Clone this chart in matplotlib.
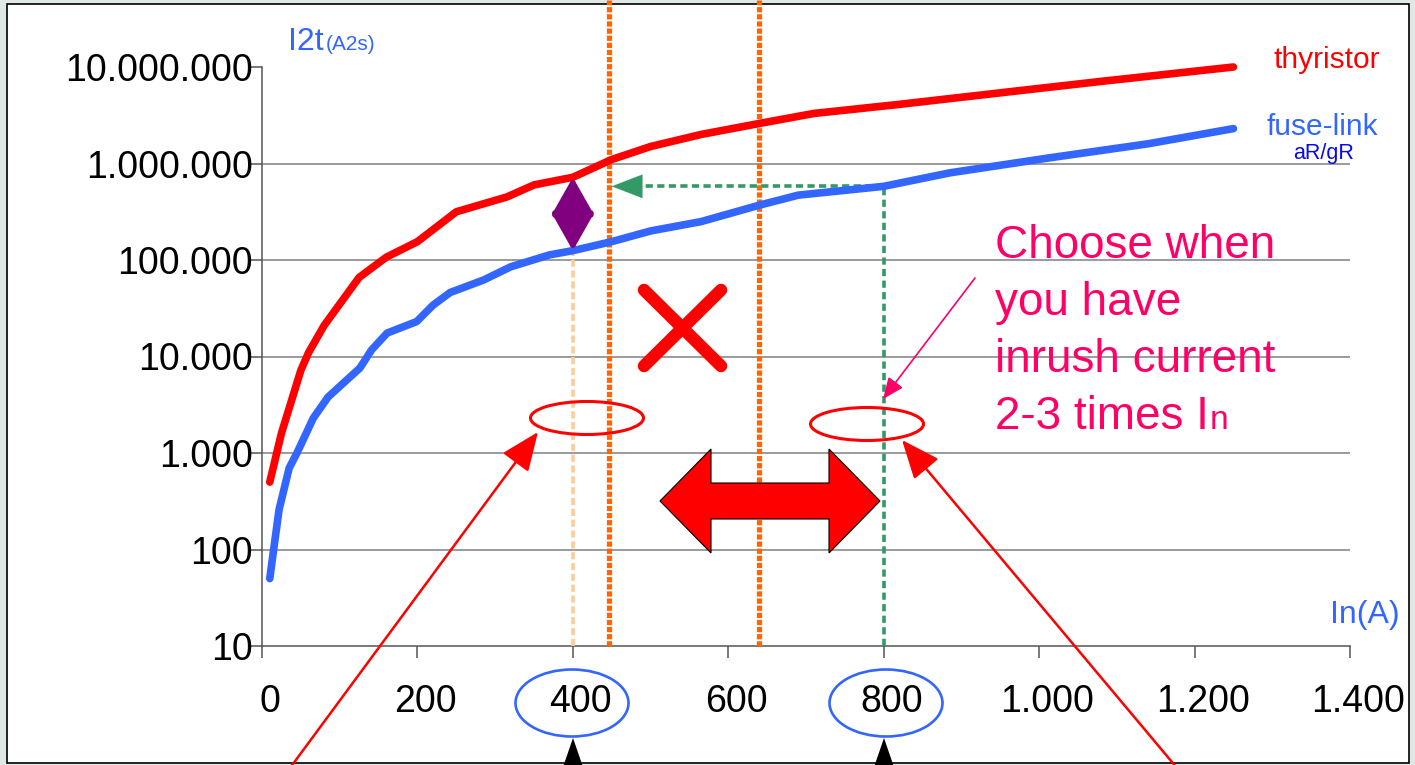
import matplotlib
matplotlib.use('Agg')
import matplotlib.pyplot as plt
import matplotlib.transforms as mtransforms
from matplotlib.patches import Rectangle, Ellipse, Polygon, FancyArrowPatch
from matplotlib.lines import Line2D
from matplotlib.ticker import FuncFormatter, FixedLocator

plt.rcParams['font.family'] = ['Liberation Sans', 'DejaVu Sans']

W, H = 1415, 765

# I2t curves (In in A, I2t in A2s)
thyristor_in = [10, 25, 50, 60, 80, 125, 160, 200, 250, 315, 350, 400, 450,
                500, 565, 640, 710, 820, 950, 1080, 1250]
thyristor_i2t = [500, 1600, 7200, 11000, 21000, 66000, 107000, 155000, 316000,
                 450000, 600000, 720000, 1100000, 1500000, 2000000, 2600000,
                 3300000, 4100000, 5400000, 7100000, 10000000]

fuse_in = [10, 15, 22, 35, 45, 66, 85, 110, 126, 141, 161, 199, 220, 242,
           285, 320, 370, 400, 450, 500, 565, 640, 690, 800, 885, 1015,
           1140, 1250]
fuse_i2t = [50, 100, 260, 700, 1000, 2300, 3800, 5800, 7600, 11700, 17500,
            23000, 34000, 46000, 62000, 85000, 113000, 125000, 155000, 200000,
            250000, 370000, 470000, 580000, 800000, 1150000, 1600000, 2300000]

y_ticks = [10, 100, 1000, 10000, 100000, 1000000, 10000000]
x_ticks = [0, 200, 400, 600, 800, 1000, 1200, 1400]
orange_marks = [447, 640]   # the two dark orange limits
chosen_in = [400, 800]      # circled ratings

RED = '#FF0000'
BLUE = '#3366FF'
PINK = '#FF0066'
GREEN = '#339966'
ORANGE = '#FF6600'
LIGHT_ORANGE = '#FFCC99'
PURPLE = '#800080'


def fx(x):
    return x / W


def fy(y):
    return 1 - y / H


def dots(v):
    return f'{int(round(v)):,}'.replace(',', '.')


fig = plt.figure(figsize=(W / 100, H / 100), dpi=100, facecolor='#dfe8e5')

# white slide panel
fig.patches.append(Rectangle((fx(7), fy(763)), fx(1409) - fx(7), fy(4) - fy(763),
                             transform=fig.transFigure, facecolor='white',
                             edgecolor='black', lw=1.2, zorder=-1))

ax = fig.add_axes([fx(262), fy(646), fx(1350) - fx(262), fy(67) - fy(646)], zorder=1)
ax.set_facecolor('none')
ax.set_yscale('log')
ax.set_xlim(0, 1400)
ax.set_ylim(10, 10000000)

ax.yaxis.set_major_locator(FixedLocator(y_ticks))
ax.yaxis.set_minor_locator(FixedLocator([]))
ax.yaxis.set_major_formatter(FuncFormatter(lambda v, p: dots(v)))
ax.set_xticks(x_ticks)
ax.xaxis.set_major_formatter(FuncFormatter(lambda v, p: dots(v)))

for s in ['top', 'right']:
    ax.spines[s].set_visible(False)
for s in ['left', 'bottom']:
    ax.spines[s].set_color('#555555')
    ax.spines[s].set_linewidth(1.1)
ax.tick_params(axis='y', direction='out', length=8.5, width=1.1, color='#555555',
               labelsize=27, pad=-2)
ax.tick_params(axis='x', direction='out', length=8.5, width=1.1, color='#555555',
               labelsize=27, pad=19)
shift = mtransforms.ScaledTranslation(8 / 100, 0, fig.dpi_scale_trans)
for lab in ax.get_xticklabels():
    lab.set_transform(lab.get_transform() + shift)

for v in y_ticks[1:-1]:
    ax.axhline(v, color='#808080', lw=1.1, zorder=1)

# curves
ax.plot(thyristor_in, thyristor_i2t, color=RED, lw=5.5, solid_capstyle='round',
        solid_joinstyle='round', clip_on=False, zorder=4)
ax.plot(fuse_in, fuse_i2t, color=BLUE, lw=5.5, solid_capstyle='round',
        solid_joinstyle='round', clip_on=False, zorder=4)

fuse_400 = fuse_i2t[fuse_in.index(chosen_in[0])]
thy_400 = thyristor_i2t[thyristor_in.index(chosen_in[0])]
fuse_800 = fuse_i2t[fuse_in.index(chosen_in[1])]

# vertical guide lines
ax.plot([chosen_in[0], chosen_in[0]], [10, fuse_400], color=LIGHT_ORANGE, lw=2.6,
        linestyle=(0, (2.0, 1.0)), zorder=3)
for xo in orange_marks:
    ax.axvline(xo, ymin=0, ymax=646 / 579, color=ORANGE, lw=3.8,
               linestyle=(0, (1.0, 0.35)), clip_on=False, zorder=3)
ax.plot([chosen_in[1], chosen_in[1]], [10, fuse_800], color=GREEN, lw=2.6,
        linestyle=(0, (2.0, 1.2)), zorder=3)
ax.plot([chosen_in[1], 492], [fuse_800, fuse_800], color=GREEN, lw=2.6,
        linestyle=(0, (2.0, 1.2)), zorder=3)
ax.annotate('', xy=(450, fuse_800), xytext=(493, fuse_800),
            arrowprops=dict(arrowstyle='-|>,head_length=2.2,head_width=0.85',
                            mutation_scale=10, color=GREEN, lw=0.1,
                            shrinkA=0, shrinkB=0), zorder=5)

# purple double arrow between the curves at 400 A
ax.annotate('', xy=(chosen_in[0], thy_400), xytext=(chosen_in[0], fuse_400),
            arrowprops=dict(arrowstyle='<|-|>,head_length=2.3,head_width=1.3',
                            mutation_scale=10, color=PURPLE, lw=4,
                            shrinkA=0, shrinkB=0), zorder=6)

# red cross
for (x0, y0, x1, y1) in [(644, 290, 721, 366), (644, 366, 721, 290)]:
    fig.add_artist(Line2D([fx(x0), fx(x1)], [fy(y0), fy(y1)], transform=fig.transFigure,
                          color=RED, lw=9, solid_capstyle='round', zorder=6))

# big red double arrow
block = [(660, 501), (711, 449), (711, 483), (829, 483), (829, 449), (880, 501),
         (829, 553), (829, 519), (711, 519), (711, 553)]
fig.patches.append(Polygon([(fx(a), fy(b)) for a, b in block], closed=True,
                           transform=fig.transFigure, facecolor=RED,
                           edgecolor='black', lw=0.8, zorder=6))

# red ellipses on the curves, blue ellipses round the tick labels
for cx, cy in [(587, 418), (867, 424)]:
    fig.patches.append(Ellipse((fx(cx), fy(cy)), 113 / W, 33 / H, transform=fig.transFigure,
                               facecolor='none', edgecolor=RED, lw=2.2, zorder=6))
for cx in [572, 886]:
    fig.patches.append(Ellipse((fx(cx), fy(703)), 113 / W, 67 / H, transform=fig.transFigure,
                               facecolor='none', edgecolor=BLUE, lw=1.9, zorder=6))

# red pointer arrows from below
for (x0, y0, x1, y1) in [(290, 768, 538, 432), (1177, 768, 902, 440)]:
    fig.add_artist(FancyArrowPatch(
        (fx(x0), fy(y0)), (fx(x1), fy(y1)), transform=fig.transFigure,
        arrowstyle='-|>,head_length=2.4,head_width=1.0', mutation_scale=10,
        color=RED, lw=1.8, shrinkA=0, shrinkB=0, zorder=7))

# pink pointer
fig.add_artist(FancyArrowPatch(
    (fx(975), fy(278)), (fx(883), fy(399)), transform=fig.transFigure,
    arrowstyle='-|>,head_length=1.3,head_width=0.55', mutation_scale=10,
    color=PINK, lw=1.2, shrinkA=0, shrinkB=0, zorder=7))

# black triangles at the bottom
for cx in [573, 884]:
    fig.patches.append(Polygon([(fx(cx), fy(738)), (fx(cx - 11), fy(770)),
                                (fx(cx + 11), fy(770))], closed=True,
                               transform=fig.transFigure, facecolor='black',
                               edgecolor='none', zorder=7))

# texts
renderer = fig.canvas.get_renderer()
t1 = fig.text(fx(288), fy(50), 'I2t', color=BLUE, fontsize=23, va='baseline')
bb = t1.get_window_extent(renderer)
fig.text(bb.x1 / W + 2 / W, fy(50), '(A2s)', color=BLUE, fontsize=15, va='baseline')
fig.text(fx(1400), fy(623), 'In(A)', color=BLUE, fontsize=23, va='baseline', ha='right')
fig.text(fx(1273), fy(68), 'thyristor', color=RED, fontsize=21.5, va='baseline')
fig.text(fx(1267), fy(135), 'fuse-link', color=BLUE, fontsize=21.5, va='baseline')
fig.text(fx(1293), fy(159), 'aR/gR', color='#0A0AE6', fontsize=15.5, va='baseline')

lines = ['Choose when', 'you have', 'inrush current']
for i, t in enumerate(lines):
    fig.text(fx(995), fy(258 + 57 * i), t, color=PINK, fontsize=33, va='baseline')
last = fig.text(fx(995), fy(429), '2-3 times I', color=PINK, fontsize=33, va='baseline')
bb = last.get_window_extent(renderer)
fig.text(bb.x1 / W + 1 / W, fy(429), 'n', color=PINK, fontsize=24, va='baseline')

fig.savefig('out.png', dpi=100, facecolor=fig.get_facecolor())
